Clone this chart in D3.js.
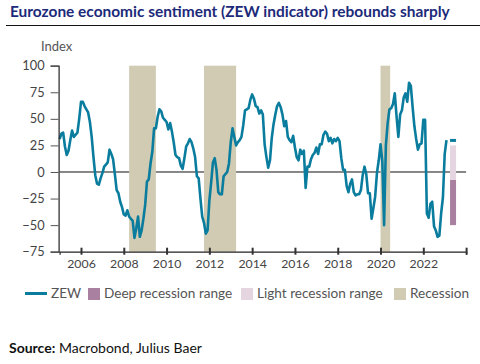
<!DOCTYPE html>
<html><head><meta charset="utf-8">
<script src="https://cdn.jsdelivr.net/npm/d3@7"></script>
<style>
html,body{margin:0;padding:0;background:#fff;}
svg{display:block;font-family:Lato,"Noto Sans",sans-serif;}
</style></head>
<body>
<svg id="chart" width="480" height="364"></svg>
<script>
// ---- data ----
const startYear = 2005; // first value = Jan 2005, monthly
const zew2005 = [31, 36, 37, 24, 16, 20, 30, 39, 33, 35, 37, 50];
const zew2006 = [66, 66, 62, 59, 56, 47, 33, 14, -3, -11, -12, -6];
const zew2007 = [-1, 5, 7, 9, 21, 17, 12, -2, -17, -20, -28, -33];
const zew2008 = [-40, -41, -36, -42, -44, -46, -62, -53, -42, -61, -55, -44];
const zew2009 = [-31, -9, -7, 8, 19, 41, 41, 52, 59, 57, 51, 49];
const zew2010 = [47, 40, 46, 38, 28, 16, 14, 13, 6, 3, 13, 24];
const zew2011 = [27, 31, 28, 22, 14, -4, -6, -25, -42, -48, -58, -55];
const zew2012 = [-27, -10, 9, 13, 2, -19, -21, -21, -4, -2, 0, 8];
const zew2013 = [28, 41, 33, 25, 28, 30, 33, 44, 58, 59, 60, 68];
const zew2014 = [73, 69, 62, 61, 55, 58, 54, 26, 14, 4, 11, 32];
const zew2015 = [45, 54, 62, 65, 61, 54, 43, 48, 33, 30, 28, 34];
const zew2016 = [23, 14, 11, 21, 17, 20, -15, 5, 5, 12, 16, 18];
const zew2017 = [23, 17, 26, 26, 35, 38, 36, 29, 32, 27, 31, 29];
const zew2018 = [32, 29, 13, 2, 2, -13, -19, -11, -7, -19, -22, -21];
const zew2019 = [-21, -17, -3, 5, -2, -20, -20, -44, -34, -23, -1, 11];
const zew2020 = [26, 10, -50, 25, 46, 59, 60, 64, 74, 52, 33, 54];
const zew2021 = [58, 70, 74, 66, 84, 81, 61, 43, 31, 21, 26, 27];
const zew2022 = [49, 49, -39, -43, -30, -28, -51, -55, -61, -60, -39, -24];
const zew2023 = [17, 30];
const zewValues = [].concat(zew2005, zew2006, zew2007, zew2008, zew2009, zew2010,
  zew2011, zew2012, zew2013, zew2014, zew2015, zew2016, zew2017, zew2018,
  zew2019, zew2020, zew2021, zew2022, zew2023);

const recessionStart = [2008.25, 2011.75, 2020.0];
const recessionEnd   = [2009.5, 2013.25, 2020.45];

const rangeStart = 2023.25, rangeEnd = 2023.53;
const deepRange  = [-50, -7.5];
const lightRange = [-7.5, 25];
const latestValue = 29.7;

const yTicks = [-75, -50, -25, 0, 25, 50, 75, 100];
const xTicks = [2006, 2008, 2010, 2012, 2014, 2016, 2018, 2020, 2022, 2024];
const xTickLabels = ["2006","2008","2010","2012","2014","2016","2018","2020","2022",""];
const legendLabels = ["ZEW", "Deep recession range", "Light recession range", "Recession"];

const C_LINE = "#0a7d9f", C_DEEP = "#a9809f", C_LIGHT = "#e4d5e1", C_REC = "#d0cbb2";

// ---- layout ----
const svg = d3.select("#chart");
const x = d3.scaleLinear().domain([2005, 2024]).range([59.6, 466.1]);
const y = d3.scaleLinear().domain([-75, 100]).range([251.7, 65.7]);

// title
const title = svg.append("text").attr("x", 10).attr("y", 17)
  .attr("fill", "#1c2a7a").attr("font-weight", 700).attr("font-size", 14.5)
  .text("Eurozone economic sentiment (ZEW indicator) rebounds sharply");
const tl = title.node().getComputedTextLength();
title.attr("font-size", 14.5 * 440 / tl);
svg.append("line").attr("x1", 6).attr("x2", 480).attr("y1", 25.5).attr("y2", 25.5)
  .attr("stroke", "#111").attr("stroke-width", 1);

svg.append("text").attr("x", 41).attr("y", 51).attr("font-size", 13)
  .attr("fill", "#555").text("Index");

// zero line
svg.append("line").attr("x1", x(2005)).attr("x2", x(2024))
  .attr("y1", y(0)).attr("y2", y(0)).attr("stroke", "#111").attr("stroke-width", 1);

// recession bands
svg.append("g").selectAll("rect").data(recessionStart).join("rect")
  .attr("x", (d) => x(d)).attr("width", (d, i) => x(recessionEnd[i]) - x(d))
  .attr("y", y(100)).attr("height", y(-75) - y(100)).attr("fill", C_REC);

// ranges
svg.append("rect").attr("x", x(rangeStart)).attr("width", x(rangeEnd) - x(rangeStart))
  .attr("y", y(deepRange[1])).attr("height", y(deepRange[0]) - y(deepRange[1])).attr("fill", C_DEEP);
svg.append("rect").attr("x", x(rangeStart)).attr("width", x(rangeEnd) - x(rangeStart))
  .attr("y", y(lightRange[1])).attr("height", y(lightRange[0]) - y(lightRange[1])).attr("fill", C_LIGHT);
svg.append("line").attr("x1", x(rangeStart)).attr("x2", x(rangeEnd))
  .attr("y1", y(latestValue)).attr("y2", y(latestValue))
  .attr("stroke", C_LINE).attr("stroke-width", 3);

// ZEW line
const line = d3.line().x((d, i) => x(startYear + i / 12)).y((d) => y(d));
svg.append("path").datum(zewValues).attr("d", line).attr("fill", "none")
  .attr("stroke", C_LINE).attr("stroke-width", 2.6).attr("stroke-linejoin", "round");

// y axis
const yAxis = svg.append("g").attr("transform", `translate(${x(2005) - 1},0)`)
  .call(d3.axisLeft(y).tickValues(yTicks).tickSize(8).tickPadding(6));
yAxis.select(".domain").attr("stroke", "#222").attr("stroke-width", 1.2);
yAxis.selectAll(".tick line").attr("stroke", "#555");
yAxis.selectAll(".tick text").attr("font-size", 12.8).attr("fill", "#444")
  .attr("font-family", "Lato, sans-serif");

// x axis
const xAxis = svg.append("g").attr("transform", `translate(0,${y(-75)})`)
  .call(d3.axisBottom(x).tickValues(xTicks).tickFormat((d, i) => xTickLabels[i])
    .tickSizeOuter(0).tickSize(3).tickPadding(5));
xAxis.select(".domain").attr("stroke", "#222").attr("stroke-width", 1.2);
xAxis.selectAll(".tick line").attr("stroke", "#333").attr("stroke-width", 2)
  .attr("y1", -4).attr("y2", 3);
xAxis.selectAll(".tick text").attr("font-size", 12.3).attr("fill", "#444")
  .attr("font-family", "Lato, sans-serif");

// legend
const lg = svg.append("g").attr("font-size", 13.6).attr("fill", "#555");
lg.append("line").attr("x1", 25).attr("x2", 47).attr("y1", 293.5).attr("y2", 293.5)
  .attr("stroke", C_LINE).attr("stroke-width", 3);
lg.append("text").attr("x", 51).attr("y", 298).text(legendLabels[0]);
const sw = [[88, C_DEEP, 104], [241, C_LIGHT, 257], [394, C_REC, 410]];
sw.forEach((s, i) => {
  lg.append("rect").attr("x", s[0]).attr("y", 288).attr("width", 12).attr("height", 12).attr("fill", s[1]);
  lg.append("text").attr("x", s[2]).attr("y", 298).text(legendLabels[i + 1]);
});

// source
const src = svg.append("text").attr("x", 9).attr("y", 353).attr("font-size", 14).attr("fill", "#111");
src.append("tspan").attr("font-weight", 700).text("Source:");
src.append("tspan").text(" Macrobond, Julius Baer");
</script>
</body></html>
